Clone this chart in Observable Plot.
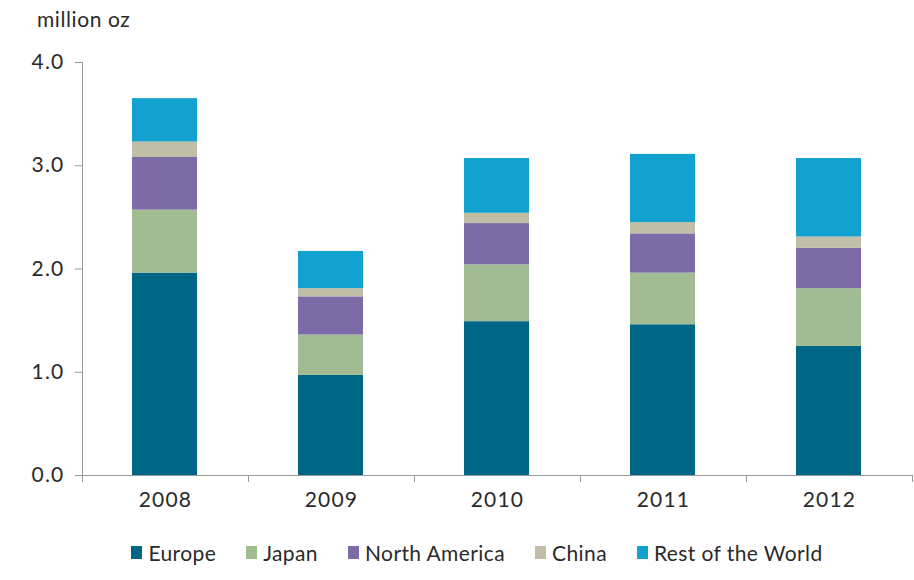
<!DOCTYPE html>
<html>
<head>
<meta charset="utf-8">
<script src="https://cdn.jsdelivr.net/npm/d3@7"></script>
<script src="https://cdn.jsdelivr.net/npm/@observablehq/plot@0.6"></script>
<style>
  body { margin: 0; background: #fff; font-family: "Lato", "DejaVu Sans", sans-serif; }
  #wrap { position: relative; width: 914px; height: 580px; }
  #unit { position: absolute; left: 37px; top: 6px; font-size: 21px; color: #2a2a2a; letter-spacing: 0.6px; }
  #chart { position: absolute; left: 0; top: 0; }
  #legend { position: absolute; left: 0; top: 540px; width: 914px; display: flex; justify-content: center; gap: 30px; font-size: 21px; color: #2a2a2a; padding-left: 40px; box-sizing: border-box; letter-spacing: 0.4px; }
  .item { display: flex; align-items: center; }
  .sw { width: 11px; height: 13px; margin-right: 6px; }
  svg text { letter-spacing: 1.2px; }
</style>
</head>
<body>
<div id="wrap">
  <div id="unit">million oz</div>
  <div id="chart"></div>
  <div id="legend"></div>
</div>
<script>
const years = ["2008", "2009", "2010", "2011", "2012"];
const regions = ["Europe", "Japan", "North America", "China", "Rest of the World"];
const colors = ["#006685", "#a1bb93", "#7d6ba8", "#c0bea6", "#13a1d0"];
const europe = [1.96, 0.97, 1.49, 1.46, 1.25];
const japan = [0.61, 0.39, 0.55, 0.50, 0.56];
const northAmerica = [0.51, 0.37, 0.40, 0.38, 0.39];
const china = [0.15, 0.08, 0.10, 0.11, 0.11];
const restOfWorld = [0.42, 0.36, 0.53, 0.66, 0.76];
const yTicks = [0, 1, 2, 3, 4];

const series = [europe, japan, northAmerica, china, restOfWorld];
const data = [];
regions.forEach((r, i) => years.forEach((y, j) => data.push({year: y, region: r, value: series[i][j]})));

const bw = (914 - 82 - 2) / years.length;
const boundaries = years.map((y) => ({year: y, dx: -bw / 2})).concat([{year: years[years.length - 1], dx: bw / 2}]);

const chart = Plot.plot({
  width: 914,
  height: 510,
  marginTop: 62,
  marginBottom: 35,
  marginLeft: 82,
  marginRight: 2,
  style: {fontFamily: "Lato, 'DejaVu Sans', sans-serif", fontSize: "21px", color: "#2a2a2a"},
  x: {domain: years, padding: 0, label: null},
  y: {domain: [0, 4], label: null},
  color: {domain: regions, range: colors},
  marks: [
    Plot.barY(data, Plot.stackY({x: "year", y: "value", fill: "region", order: regions, insetLeft: 50, insetRight: 51})),
    Plot.axisY({ticks: yTicks, tickFormat: (d) => d.toFixed(1), tickSize: 7, tickPadding: 11, stroke: "#999", fontSize: 21, label: null}),
    Plot.axisX({tickSize: 0, tickPadding: 17, fontSize: 21, label: null}),
    Plot.ruleY([0], {stroke: "#999", strokeWidth: 1}),
    Plot.ruleX([0], {x: () => years[0], dx: -bw / 2, y1: 0, y2: 4, stroke: "#999"}),
    ...boundaries.map((b) => Plot.ruleX([b], {x: "year", dx: b.dx, y1: 0, y2: -0.068, stroke: "#999"}))
  ]
});
document.getElementById("chart").appendChild(chart);

const legend = document.getElementById("legend");
regions.forEach((r, i) => {
  const it = document.createElement("div");
  it.className = "item";
  it.innerHTML = `<span class="sw" style="background:${colors[i]}"></span><span>${r}</span>`;
  legend.appendChild(it);
});
</script>
</body>
</html>
